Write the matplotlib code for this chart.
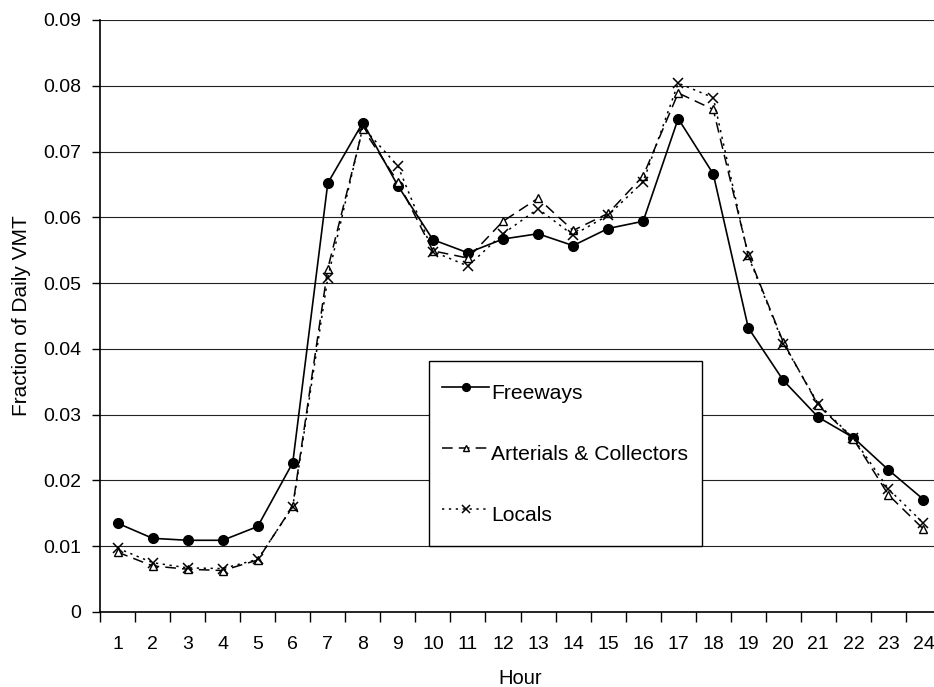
import matplotlib.pyplot as plt
import numpy as np
from matplotlib.ticker import FixedLocator

plt.rcParams["font.family"] = ["Liberation Sans", "DejaVu Sans"]

# data
hours = list(range(1, 25))
freeways = [0.0135, 0.0112, 0.0109, 0.0109, 0.0130, 0.0227, 0.0652, 0.0744,
            0.0648, 0.0566, 0.0546, 0.0567, 0.0575, 0.0557, 0.0583, 0.0594,
            0.0750, 0.0666, 0.0432, 0.0352, 0.0296, 0.0265, 0.0216, 0.0171]
arterials = [0.0091, 0.0070, 0.0065, 0.0063, 0.0079, 0.0161, 0.0522, 0.0735,
             0.0654, 0.0549, 0.0538, 0.0594, 0.0629, 0.0580, 0.0606, 0.0663,
             0.0789, 0.0764, 0.0543, 0.0410, 0.0314, 0.0263, 0.0178, 0.0126]
locals_ = [0.0097, 0.0075, 0.0067, 0.0066, 0.0080, 0.0160, 0.0508, 0.0737,
           0.0678, 0.0548, 0.0526, 0.0575, 0.0613, 0.0573, 0.0603, 0.0654,
           0.0804, 0.0782, 0.0541, 0.0408, 0.0316, 0.0264, 0.0187, 0.0135]
y_ticks = [0, 0.01, 0.02, 0.03, 0.04, 0.05, 0.06, 0.07, 0.08, 0.09]
y_labels = ["0", "0.01", "0.02", "0.03", "0.04", "0.05", "0.06", "0.07", "0.08", "0.09"]

fig = plt.figure(figsize=(9.34, 6.87), dpi=100)
# plot area runs a bit past the right edge of the picture, like the original
ax = fig.add_axes([0.1071, 0.1092, 0.9004, 0.8617])

ax.plot(hours, freeways, color="black", lw=1.2, ls="-", marker="o",
        markersize=7, label="Freeways")
ax.plot(hours, arterials, color="black", lw=1.1, ls=(0, (7, 4)), marker="^",
        markersize=6, markerfacecolor="white", markeredgewidth=1.0,
        label="Arterials & Collectors")
ax.plot(hours, locals_, color="black", lw=1.1, ls=(0, (1.5, 3)), marker="x",
        markersize=7, markeredgewidth=1.1, label="Locals")

ax.set_xlim(0.5, 24.5)
ax.set_ylim(0, 0.09)
ax.set_xticks(hours)
ax.set_xticklabels([str(h) for h in hours])
ax.xaxis.set_minor_locator(FixedLocator(np.arange(0.5, 25, 1)))
ax.tick_params(axis="x", which="major", length=0, labelsize=14, pad=17)
ax.tick_params(axis="x", which="minor", length=7, width=1, direction="out")
ax.set_yticks(y_ticks)
ax.set_yticklabels(y_labels)
ax.tick_params(axis="y", length=6, width=1, direction="out", labelsize=14, pad=7.5)

ax.grid(axis="y", color="#222222", lw=0.8)
ax.set_axisbelow(True)
for side in ["top", "right"]:
    ax.spines[side].set_visible(False)
ax.spines["left"].set_linewidth(1.2)
ax.spines["bottom"].set_linewidth(1.2)

ax.set_xlabel("Hour", fontsize=14.5)
ax.set_ylabel("Fraction of Daily VMT", fontsize=15)
ax.xaxis.set_label_coords(0.5, -0.097)
ax.yaxis.set_label_coords(-0.082, 0.5)

leg = fig.legend(loc="upper left", bbox_to_anchor=(0.4593, 0.4745),
                 fontsize=15.2, frameon=True, fancybox=False, framealpha=1,
                 edgecolor="black", handlelength=2.2, handletextpad=0.12,
                 handleheight=2.3, labelspacing=1.14, borderpad=0.64,
                 borderaxespad=0, markerscale=0.8)
leg.get_frame().set_linewidth(1.0)

fig.savefig("out.png", dpi=100)
